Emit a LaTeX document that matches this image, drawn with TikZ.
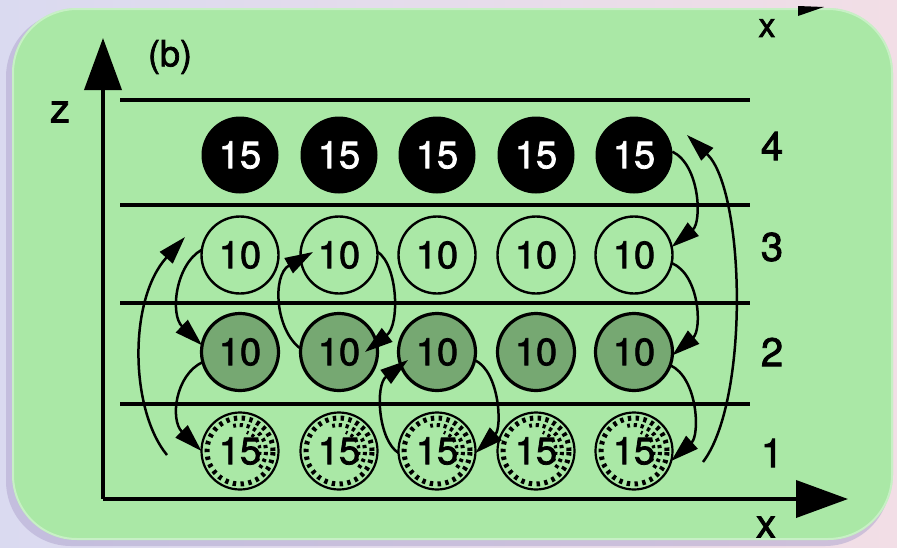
\documentclass[tikz,border=0pt]{standalone}
\usepackage{fontspec}
\setmainfont{TeX Gyre Heros}
\newfontfamily\heavyfont{TeX Gyre Heros}[FakeBold=2]
\usetikzlibrary{arrows.meta,calc}
\definecolor{bgL}{RGB}{218,218,240}
\definecolor{bgR}{RGB}{242,222,230}
\definecolor{panel}{RGB}{170,232,166}
\definecolor{stip}{RGB}{118,168,114}
\definecolor{shadowc}{RGB}{178,168,208}
\newcommand\hatchball[2]{%
  \draw[line width=5pt, dash pattern=on 3.4pt off 4.4pt] (#2) circle (33pt);
  \draw[line width=4pt, dash pattern=on 3.2pt off 3.8pt] (#2) ++(-40:26pt) arc[start angle=-40,end angle=105,radius=26pt];
  \draw[line width=3.4pt, dash pattern=on 3pt off 3.6pt] (#2) ++(-30:20pt) arc[start angle=-30,end angle=70,radius=20pt];
  \node[hatch] (#1) at (#2) {15};
}
\begin{document}
\begin{tikzpicture}[x=1pt,y=1pt,
  ball/.style={circle, minimum size=77pt, inner sep=0pt, outer sep=0pt, font=\heavyfont\fontsize{38}{42}\selectfont},
  topball/.style={ball, fill=black, text=white},
  openball/.style={ball, draw, line width=2.4pt},
  greyball/.style={ball, draw, fill=stip, line width=3.2pt},
  hatch/.style={ball, draw, line width=2.2pt},
  flow/.style={line width=2.5pt, -{Triangle[length=28pt,width=17pt]}},
  axis/.style={line width=3.8pt, -{Triangle[length=52pt,width=37pt]}},
  layer/.style={line width=3.4pt},
  lab/.style={font=\heavyfont\fontsize{40}{44}\selectfont, inner sep=0pt}
]
\useasboundingbox (0,0) rectangle (897,-547);
\shade[left color=bgL, right color=bgR] (0,0) rectangle (897,-547);
\fill[shadowc, opacity=0.55, rounded corners=65pt] (6,-12) rectangle (890,-546);
\fill[panel, rounded corners=65pt] (12,-8) rectangle (893,-540);
\draw[white, opacity=0.35, line width=2pt, rounded corners=64pt] (13,-9) rectangle (892,-539);

% clipped parts of the figure above
\node[font=\heavyfont\fontsize{34}{38}\selectfont, inner sep=0pt] (xtop) at (767,-28) {x};
\fill (798,-16) -- (824,-7) -- (798,-6) -- cycle;

% axes
\coordinate (O) at (103,-499);
\coordinate (ztip) at (103,-38);
\coordinate (xtip) at (848,-499);
\draw[axis] (O) -- (ztip);
\draw[axis] (O) -- (xtip);
\node[lab] (zl) at (60,-112) {z};
\node[lab] (xl) at (766,-527) {x};
\node[font=\heavyfont\fontsize{36}{40}\selectfont, inner sep=0pt] (bl) at (170,-57) {(b)};

% layer lines
\foreach \y [count=\i] in {100,205,303,404} {
  \coordinate (L\i a) at (120,-\y);
  \coordinate (L\i b) at (750,-\y);
  \draw[layer] (L\i a) -- (L\i b);
}

% layer numbers
\node[lab] (n4) at (772,-146) {4};
\node[lab] (n3) at (772,-247) {3};
\node[lab] (n2) at (772,-352) {2};
\node[lab] (n1) at (772,-453) {1};

% balls
\foreach \x [count=\j] in {240,339,437,536,634} {
  \node[topball]  (c4\j) at (\x,-155) {15};
  \node[openball] (c3\j) at (\x,-255) {10};
  \node[greyball] (c2\j) at (\x,-352) {10};
  \hatchball{c1\j}{\x,-451}
}

% flows
\coordinate (l1) at (167,-455);
\coordinate (l2) at (185,-237);
\coordinate (r1) at (703,-462);
\coordinate (r2) at (687,-135);
\draw[flow] (l1) .. controls (130,-410) and (128,-300) .. (l2);
\draw[flow] (c31.172) .. controls (175,-265) and (170,-315) .. (c21.170);
\draw[flow] (c21.195) .. controls (175,-375) and (170,-420) .. (c11.180);
\draw[flow] (c22.175) .. controls (275,-330) and (272,-275) .. ($(c32)+(-26,3)$);
\draw[flow] (c32.5) .. controls (398,-265) and (400,-325) .. ($(c22)+(26,0)$);
\draw[flow] (c13.183) .. controls (378,-440) and (375,-385) .. ($(c23)+(-29,-8)$);
\draw[flow] (c23.-12) .. controls (500,-372) and (502,-428) .. (c13.-3);
\draw[flow] (c45.5) .. controls (700,-165) and (702,-222) .. (c35.12);
\draw[flow] (c35.-12) .. controls (700,-275) and (702,-330) .. (c25.-5);
\draw[flow] (c25.-20) .. controls (698,-378) and (700,-435) .. (c15.-15);
\draw[flow] (r1) .. controls (750,-400) and (745,-190) .. (r2);
\end{tikzpicture}
\end{document}
